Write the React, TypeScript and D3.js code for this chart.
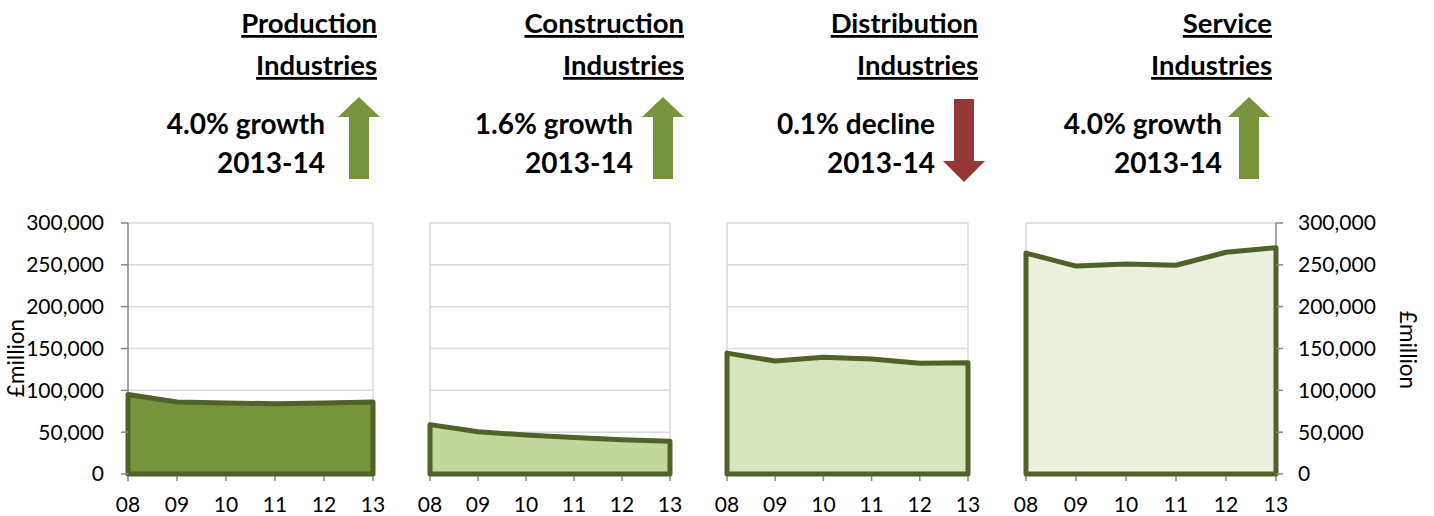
import React from "react";
import * as d3 from "d3";

const years = ["08", "09", "10", "11", "12", "13"];
const production = [95000, 86000, 85000, 84000, 85000, 86000];
const construction = [59000, 50500, 46500, 43500, 41000, 39000];
const distribution = [144500, 135000, 139500, 137500, 132500, 133000];
const service = [264000, 248500, 251000, 249500, 265000, 270500];
const yTicks = [0, 50000, 100000, 150000, 200000, 250000, 300000];

const titles = [["Production", "Industries"], ["Construction", "Industries"], ["Distribution", "Industries"], ["Service", "Industries"]];
const changeLabels = ["4.0% growth", "1.6% growth", "0.1% decline", "4.0% growth"];
const changeDir = ["up", "up", "down", "up"];
const period = "2013-14";

const series = [production, construction, distribution, service];
const fills = ["#77933C", "#C3D69B", "#D7E4BD", "#EBF1DE"];
const stroke = "#4F6228";
const grid = "#D9D9D9";
const axisGrey = "#868686";
const font = "Lato, 'Open Sans', sans-serif";

// panel layout: plot x range, title right edge, label right edge, arrow centre
const panels = [
  { x0: 128, x1: 373, titleR: 377, textR: 325, arrowX: 359 },
  { x0: 430, x1: 670, titleR: 684, textR: 633, arrowX: 663 },
  { x0: 727, x1: 968, titleR: 978, textR: 935, arrowX: 964 },
  { x0: 1026, x1: 1276, titleR: 1272, textR: 1222, arrowX: 1249 },
];
const yTop = 223;
const yBot = 474;

const y = d3.scaleLinear().domain([0, 300000]).range([yBot, yTop]);
const fmt = d3.format(",");

function Arrow({ cx, dir }: { cx: number; dir: string }) {
  const up = dir === "up";
  const color = up ? "#77933C" : "#953735";
  const hw = 21, sw = 10;
  let pts: number[][];
  if (up) {
    const top = 97, base = 117, bot = 179;
    pts = [[cx, top], [cx + hw, base], [cx + sw, base], [cx + sw, bot], [cx - sw, bot], [cx - sw, base], [cx - hw, base]];
  } else {
    const top = 99, base = 161, tip = 182;
    pts = [[cx - sw, top], [cx + sw, top], [cx + sw, base], [cx + hw, base], [cx, tip], [cx - hw, base], [cx - sw, base]];
  }
  return <polygon points={pts.map((p) => p.join(",")).join(" ")} fill={color} />;
}

function Panel({ i }: { i: number }) {
  const p = panels[i];
  const x = d3.scalePoint().domain(years).range([p.x0, p.x1]);
  const vals = series[i];
  const pts: [number, number][] = years.map((yr, k) => [x(yr)!, y(vals[k])]);
  const poly = [...pts, [p.x1, y(0)], [p.x0, y(0)]] as [number, number][];
  const path = d3.line()(poly) + "Z";
  return (
    <g>
      {yTicks.slice(1).map((t) => (
        <line key={t} x1={p.x0} x2={p.x1} y1={y(t)} y2={y(t)} stroke={grid} strokeWidth={1.5} />
      ))}
      <line x1={p.x0} x2={p.x0} y1={yTop} y2={yBot} stroke={i === 0 ? axisGrey : grid} strokeWidth={1.5} />
      <line x1={p.x1} x2={p.x1} y1={yTop} y2={yBot} stroke={i === 3 ? axisGrey : grid} strokeWidth={1.5} />
      <line x1={p.x0} x2={p.x1} y1={yBot} y2={yBot} stroke={axisGrey} strokeWidth={1.5} />
      {years.map((yr) => (
        <line key={yr} x1={x(yr)} x2={x(yr)} y1={yBot} y2={yBot + 7} stroke={axisGrey} strokeWidth={1.5} />
      ))}
      <path d={path} fill={fills[i]} stroke={stroke} strokeWidth={5} strokeLinejoin="round" />
      {years.map((yr) => (
        <text key={yr} x={x(yr)} y={512} textAnchor="middle" fontSize={21} fontFamily={font} fill="#000">
          {yr}
        </text>
      ))}
      {titles[i].map((t, k) => (
        <text key={t} x={p.titleR} y={33 + k * 42} textAnchor="end" fontSize={27.5} fontWeight="bold" fontFamily={font} textDecoration="underline" fill="#000">
          {t}
        </text>
      ))}
      <text x={p.textR} y={134} textAnchor="end" fontSize={28} fontWeight="bold" fontFamily={font} fill="#000">
        {changeLabels[i]}
      </text>
      <text x={p.textR} y={173} textAnchor="end" fontSize={28} fontWeight="bold" fontFamily={font} fill="#000">
        {period}
      </text>
      <Arrow cx={p.arrowX} dir={changeDir[i]} />
    </g>
  );
}

export default function App() {
  const left = panels[0].x0;
  const right = panels[3].x1;
  return (
    <svg width={1434} height={516} style={{ position: "absolute", left: 0, top: 0, background: "#fff" }}>
      <rect width={1434} height={516} fill="#fff" />
      {panels.map((_, i) => (
        <Panel key={i} i={i} />
      ))}
      {yTicks.map((t) => (
        <g key={t}>
          <line x1={left - 7} x2={left} y1={y(t)} y2={y(t)} stroke={axisGrey} strokeWidth={1.5} />
          <text x={left - 24} y={y(t)} dy="0.35em" textAnchor="end" fontSize={21} fontFamily={font} fill="#000">
            {fmt(t)}
          </text>
          <line x1={right} x2={right + 7} y1={y(t)} y2={y(t)} stroke={axisGrey} strokeWidth={1.5} />
          <text x={right + 22} y={y(t)} dy="0.35em" textAnchor="start" fontSize={21} fontFamily={font} fill="#000">
            {fmt(t)}
          </text>
        </g>
      ))}
      <text transform="translate(24,358) rotate(-90)" textAnchor="middle" fontSize={22.5} fontFamily={font} fill="#000">
        £million
      </text>
      <text transform="translate(1400,350) rotate(90)" textAnchor="middle" fontSize={22.5} fontFamily={font} fill="#000">
        £million
      </text>
    </svg>
  );
}
